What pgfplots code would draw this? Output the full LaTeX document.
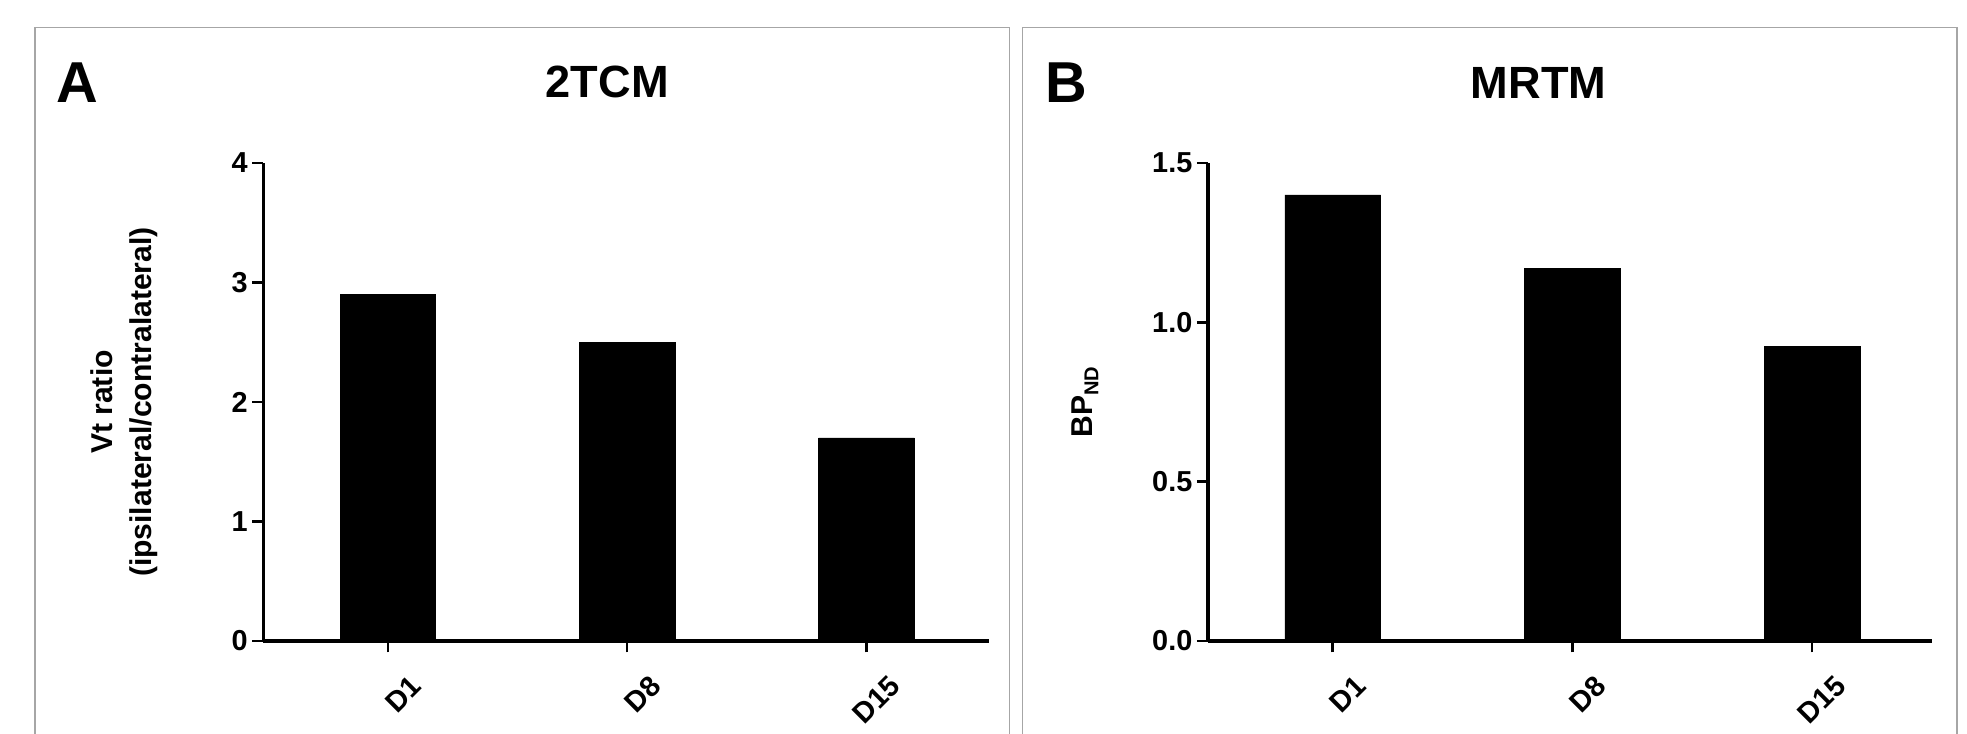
\documentclass[border=0pt]{standalone}
\usepackage{pgfplots}
\pgfplotsset{compat=1.18}
\usepackage{fontspec}
\setmainfont{Liberation Sans}
\begin{document}
\begin{tikzpicture}
\path[use as bounding box] (0pt,0pt) rectangle (1568pt,585pt);
\draw[gray!70,line width=1pt] (28pt,-5pt) -- (28pt,563pt) -- (805pt,563pt) -- (805pt,-5pt);
\draw[gray!70,line width=1pt] (815pt,-5pt) -- (815pt,563pt) -- (1560pt,563pt) -- (1560pt,-5pt);
\node[font=\fontsize{46}{50}\selectfont\bfseries] at (62pt,519pt) {A};
\node[font=\fontsize{46}{50}\selectfont\bfseries] at (850pt,519pt) {B};
\pgfplotsset{myax/.style={
  scale only axis, anchor=south west, width=578pt, height=381pt,
  axis lines*=left, axis line style={line width=2.5pt},
  ybar, bar width=0.4, bar shift=0pt,
  xmin=-0.52, xmax=2.51, ymin=0,
  xtick={0,1,2}, xticklabels={D1,D8,D15},
  tick align=outside, major tick length=9pt,
  tick style={line width=2pt,black},
  x tick label style={rotate=45,anchor=north east,font=\fontsize{23}{24}\selectfont\bfseries,inner sep=2pt, yshift=-22pt,xshift=2pt},
  y tick label style={font=\fontsize{23}{24}\selectfont\bfseries},
  /pgf/number format/assume math mode=true,
  title style={font=\fontsize{36}{40}\selectfont\bfseries, at={(0.5,1)}, yshift=42pt},
  ylabel style={font=\fontsize{24}{31}\selectfont\bfseries, align=center},
}}
\begin{axis}[myax, at={(210pt,74pt)}, ymax=4, ytick={0,1,2,3,4},
  title={2TCM}, title style={xshift=-15pt},
  ylabel={Vt ratio\\(ipsilateral/contralateral)}, ylabel style={yshift=52pt}]
\addplot[fill=black,draw=black] coordinates {(0,2.9) (1,2.5) (2,1.7)};
\end{axis}
\begin{axis}[myax, at={(963pt,74pt)}, width=577pt, xmax=2.5, ymax=1.5, ytick={0,0.5,1,1.5},
  yticklabel style={/pgf/number format/.cd,fixed,fixed zerofill,precision=1},
  title={MRTM}, title style={xshift=-25pt},
  ylabel={BP\raisebox{-0.35ex}{\fontsize{16}{18}\selectfont ND}}, ylabel style={yshift=36pt}]
\addplot[fill=black,draw=black] coordinates {(0,1.40) (1,1.17) (2,0.925)};
\end{axis}
\end{tikzpicture}
\end{document}
